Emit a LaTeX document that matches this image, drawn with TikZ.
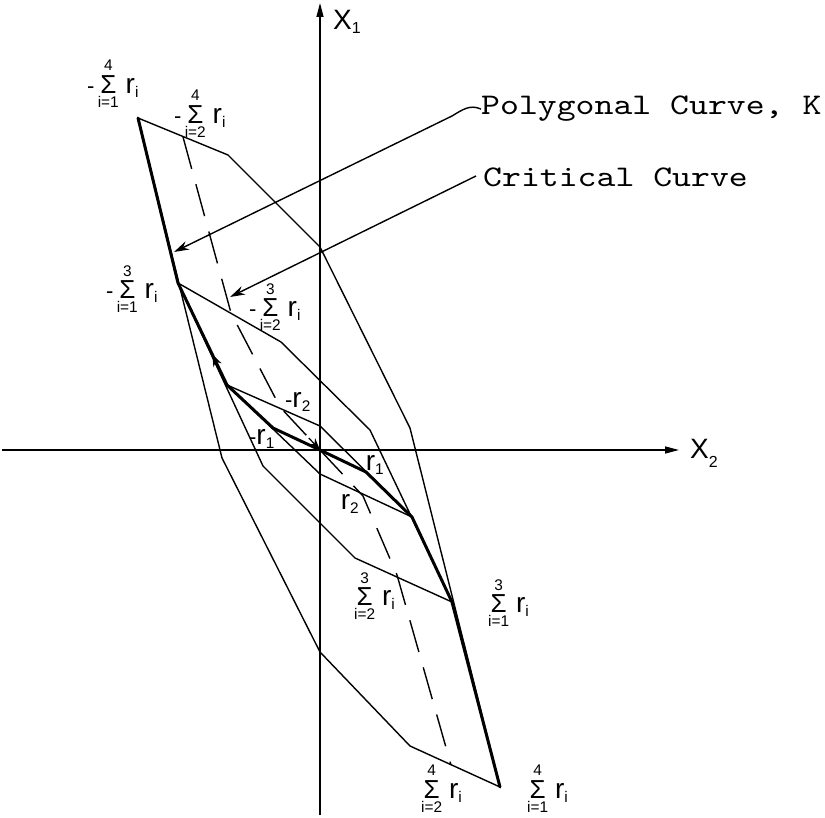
\documentclass[tikz,border=0pt]{standalone}
\usepackage{amsmath}
\usepackage{fontspec}
\setsansfont{Liberation Sans}
\newfontfamily\tw{lmmono10-regular}[Extension=.otf, FakeStretch=1.2]
\usetikzlibrary{arrows.meta}
\newcommand{\mySig}{\text{\fontsize{26}{26}\selectfont\sffamily Σ}}
\newcommand{\myR}{\text{\fontsize{28}{28}\selectfont\sffamily r}}
\newcommand{\SL}[3]{$\text{\sffamily #1}\mathop{\mySig}\limits_{\text{\sffamily i=#3}}^{\text{\sffamily #2}}\,\myR_{\text{\sffamily i}}$}
\newcommand{\RL}[2]{$\text{\sffamily #1}\myR_{\text{\sffamily #2}}$}
\begin{document}
\begin{tikzpicture}[x=1pt,y=-1pt,
  thinline/.style={line width=1.4pt, line join=round},
  kpath/.style={line width=3pt, line join=round, line cap=round},
  crit/.style={line width=1.4pt, dash pattern=on 33pt off 16pt},
  axisline/.style={line width=1.4pt, -{Triangle[length=14pt,width=7pt]}},
  leader/.style={line width=1.4pt, -{Stealth[length=15pt,width=9pt]}},
  tipmark/.style={line width=1.2pt, -{Stealth[length=12pt,width=9pt]}},
  lbl/.style={inner sep=0pt, font=\fontsize{22}{26}\selectfont},
  axlab/.style={inner sep=0pt, anchor=base west, font=\sffamily\fontsize{28}{28}\selectfont},
  caption/.style={inner sep=0pt, font=\tw\fontsize{30}{36}\selectfont}]
\useasboundingbox (0,0) rectangle (825,818);
% axes
\coordinate (O) at (320,450);
\coordinate (x1b) at (320,815);
\coordinate (x1t) at (320,3);
\coordinate (x2l) at (2,450);
\coordinate (x2r) at (679,450);
% outer zonotope
\coordinate (V0) at (138,118);
\coordinate (V1) at (228,155);
\coordinate (V2) at (320,247);
\coordinate (V3) at (410,428);
\coordinate (V4) at (500,787);
\coordinate (V5) at (410,746);
\coordinate (V6) at (320,652);
\coordinate (V7) at (222,458);
% polygonal curve K
\coordinate (K3m) at (178,283);
\coordinate (K2m) at (227,385);
\coordinate (K1m) at (273,428);
\coordinate (K1) at (366,472);
\coordinate (K2) at (412,517);
\coordinate (K3) at (452,602);
% inner hexagon
\coordinate (A1) at (281,342);
\coordinate (A2) at (370,430);
\coordinate (A4) at (355,558);
\coordinate (A5) at (263,466);
% parallelogram
\coordinate (B1) at (320,426);
\coordinate (B3) at (320,474);
% critical curve
\coordinate (C0) at (183,137);
\coordinate (C1) at (231,313);
\coordinate (C2) at (280,407);
\coordinate (C3) at (363,496);
\coordinate (C4) at (397,575);
\coordinate (C5) at (451,765);

\draw[axisline] (x1b) -- (x1t);
\draw[axisline] (x2l) -- (x2r);

\draw[thinline] (V0)--(V1)--(V2)--(V3)--(V4)--(V5)--(V6)--(V7)--cycle;
\draw[thinline] (K3m)--(A1)--(A2)--(K3)--(A4)--(A5)--cycle;
\draw[thinline] (K2m)--(B1)--(K2)--(B3)--cycle;

\draw[kpath] (V0)--(K3m)--(K2m)--(K1m)--(O)--(K1)--(K2)--(K3)--(V4);

\draw[crit] (C0)--(C1)--(C2)--(O);
\draw[crit] (O)--(C3)--(C4)--(C5);

% small arrow marks
\path (K2m) -- (K3m) coordinate[pos=0.18] (ha) coordinate[pos=0.30] (hb);
\draw[tipmark] (ha) -- (hb);
\path (C2) -- (O) coordinate[pos=0.72] (oa);
\draw[tipmark] (oa) -- (O);

% labels
\node[lbl] (lS4m) at (113,84) {\SL{-}{4}{1}};
\node[lbl] (lS24m) at (200,114) {\SL{-}{4}{2}};
\node[lbl] (lS3m) at (132,289) {\SL{-}{3}{1}};
\node[lbl] (lS23m) at (275,307) {\SL{-}{3}{2}};
\node[lbl] (lr2m) at (298,402) {\RL{-}{2}};
\node[lbl] (lr1m) at (262,439) {\RL{-}{1}};
\node[lbl] (lr1) at (375,465) {\RL{}{1}};
\node[lbl] (lr2) at (350,504) {\RL{}{2}};
\node[lbl] (lS23) at (373,596) {\SL{}{3}{2}};
\node[lbl] (lS3) at (507,603) {\SL{}{3}{1}};
\node[lbl] (lS24) at (440,789) {\SL{}{4}{2}};
\node[lbl] (lS4) at (546,789) {\SL{}{4}{1}};

\node[axlab] (x1lab) at (333,30) {X\raisebox{-4pt}{\fontsize{16}{16}\selectfont 1}};
\node[axlab] (x2lab) at (690,458) {X\raisebox{-9pt}{\fontsize{16}{16}\selectfont 2}};

% captions and leaders
\node[caption, anchor=base west] (pc) at (481,115) {Polygonal Curve, K};
\node[caption, anchor=base west] (cc) at (483,187) {Critical Curve};
\coordinate (ktip) at (174,252);
\coordinate (ctip) at (230,297);
\coordinate (pcw) at (452,116);
\coordinate (ccw) at (476,176);
\draw[thinline] (pc.west) .. controls (470,104) and (462,110) .. (pcw);
\draw[leader] (pcw) -- (ktip);
\draw[leader] (ccw) -- (ctip);
\end{tikzpicture}
\end{document}
